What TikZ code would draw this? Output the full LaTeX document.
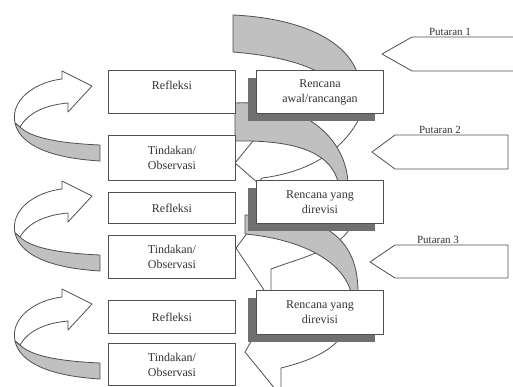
\documentclass[tikz,border=0pt]{standalone}
\usepackage{fontspec}
\setmainfont{Liberation Serif}
\definecolor{ribbon}{RGB}{192,192,192}
\definecolor{shade}{RGB}{112,112,112}
\definecolor{ln}{RGB}{80,80,80}
\tikzset{
  box/.style={draw=ln, line width=0.9pt, fill=white, minimum width=127pt, inner sep=0pt,
    anchor=north west, font=\fontsize{12}{15}\selectfont, align=center, text=black!80},
  shadowbox/.style={fill=shade, draw=none, minimum width=127pt, inner sep=0pt, anchor=north west},
  rib/.style={fill=ribbon, draw=ln, line width=0.8pt, line join=round},
  warrow/.style={fill=white, draw=ln, line width=0.8pt, line join=round},
  tag/.style={font=\fontsize{11}{13}\selectfont, anchor=base, text=black!80, inner sep=0pt},
  boxtext/.style={font=\fontsize{12}{15}\selectfont, text=black!80, inner sep=0pt, align=center},
}
\begin{document}
\begin{tikzpicture}[x=1pt,y=-1pt]
\useasboundingbox (0,0) rectangle (513,386);
\clip (0,0) rectangle (513,386);
\fill[white] (0,0) rectangle (513,386);

% left curved arrows (Tindakan -> Refleksi)
\foreach \o in {0,110,218}{
  \begin{scope}[shift={(0,\o)}]
    \draw[warrow] (15,123) .. controls (10,100) and (35,82) .. (62,79) -- (62,71) -- (92,86)
      -- (68,112) -- (68,103) .. controls (45,105) and (28,113) .. (20,127) -- cycle;
    \draw[rib] (15,123) .. controls (20,145) and (50,158) .. (100,161) -- (100,145)
      .. controls (55,143) and (30,137) .. (20,127) -- cycle;
  \end{scope}
}

% white arrows (Rencana -> Tindakan)
\draw[warrow] (235,163) -- (258,183) -- (262,178) .. controls (310,172) and (345,150) .. (362,113)
  -- (320,113) .. controls (290,118) and (262,128) .. (253,141) -- cycle;
\draw[warrow] (236,248) -- (266,293) -- (271,293) -- (271,269) .. controls (300,258) and (345,248) .. (352,223)
  -- (320,223) .. controls (290,225) and (260,225) .. (248,232) -- cycle;
\draw[warrow] (245,352) -- (280,395) -- (281,395) -- (281,368) .. controls (305,362) and (335,352) .. (345,330)
  -- (255,330) -- (253,338) -- cycle;

% gray ribbons (Refleksi -> Rencana)
\draw[rib] (233,15) .. controls (300,18) and (345,40) .. (357,72) -- (318,72)
  .. controls (300,62) and (270,55) .. (233,52) -- cycle;
\draw[rib] (235,103) .. controls (300,100) and (345,135) .. (348,182) -- (338,182)
  .. controls (330,150) and (290,140) .. (235,141) -- cycle;
\draw[rib] (245,215) .. controls (320,212) and (358,235) .. (358,292) -- (351,292)
  .. controls (340,255) and (290,238) .. (245,234) -- cycle;

% Rencana boxes with shadows
\node[shadowbox, minimum height=43pt] (sh1) at (248,78) {};
\node[box, minimum height=43pt] (ren1) at (256,70) {Rencana\\awal/rancangan};
\node[shadowbox, minimum height=43pt] (sh2) at (248,188) {};
\node[box, minimum height=43pt] (ren2) at (256,180) {Rencana yang\\direvisi};
\node[shadowbox, minimum height=44pt] (sh3) at (248,298) {};
\node[box, minimum height=44pt] (ren3) at (256,290) {Rencana yang\\direvisi};

% left boxes
\node[box, minimum height=43pt] (ref1) at (108,70) {};
\node[boxtext] (ref1t) at ([yshift=-15pt]ref1.north) {Refleksi};
\node[box, minimum height=45pt] (tin1) at (108,135) {Tindakan/\\Observasi};
\node[box, minimum height=31pt] (ref2) at (108,192) {Refleksi};
\node[box, minimum height=43pt] (tin2) at (108,235) {Tindakan/\\Observasi};
\node[box, minimum height=33pt] (ref3) at (108,300) {Refleksi};
\node[box, minimum height=42pt] (tin3) at (108,343) {Tindakan/\\Observasi};

% Putaran arrows
\draw[warrow] (520,37) -- (412,37) -- (382,54) -- (412,71) -- (520,71) -- cycle;
\draw[warrow] (508,135) -- (395,135) -- (372,152) -- (395,169) -- (508,169) -- cycle;
\draw[warrow] (508,245) -- (395,245) -- (370,262) -- (395,278) -- (508,278) -- cycle;
\node[tag] (p1) at (450,35) {Putaran 1};
\node[tag] (p2) at (440,133) {Putaran 2};
\node[tag] (p3) at (438,243) {Putaran 3};
\end{tikzpicture}
\end{document}
